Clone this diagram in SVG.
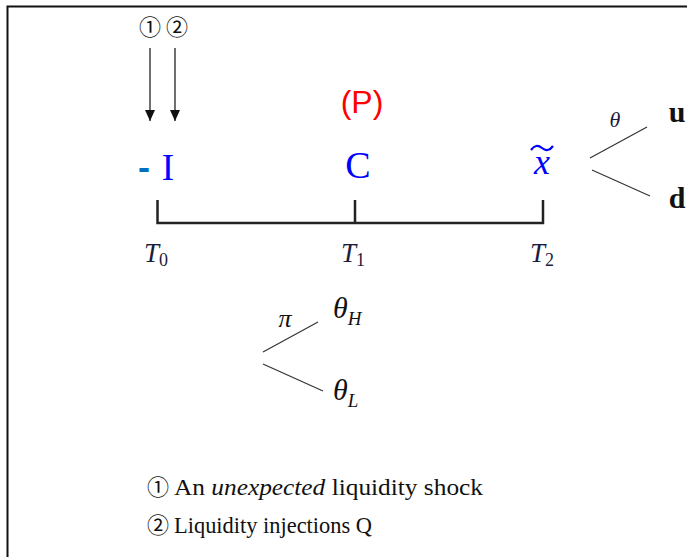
<svg xmlns="http://www.w3.org/2000/svg" width="687" height="557" viewBox="0 0 687 557">
<defs>
<style>
.ln{stroke:#333;stroke-width:1.2;fill:none}
.ax{stroke:#222;stroke-width:2.5;fill:none}
.serif{font-family:"Liberation Serif","DejaVu Serif",serif}
.cj{font-family:"Noto Sans CJK JP","Noto Sans CJK SC",sans-serif;font-weight:400}
.t{font-family:"Liberation Serif","DejaVu Serif",serif;font-style:italic;font-size:27px;fill:#1c1c3c;text-anchor:middle}
.sub{font-size:18px;font-style:normal}
</style>
</defs>
<rect width="687" height="557" fill="#fff"/>
<path d="M7.5,557 V6.5 H687" stroke="#111" stroke-width="2" fill="none"/>

<g id="connectors">
<line x1="150" y1="48" x2="150" y2="121" stroke="#222" stroke-width="1.3"/>
<path d="M145,110 L155,110 L150,121 Z" fill="#111"/>
<line x1="175" y1="48" x2="175" y2="121" stroke="#222" stroke-width="1.3"/>
<path d="M170,110 L180,110 L175,121 Z" fill="#111"/>
<path class="ax" d="M157.5,200 V223 H543 V200"/>
<line class="ax" x1="355" y1="200" x2="355" y2="223"/>
<line class="ln" x1="590" y1="158" x2="647" y2="127"/>
<line class="ln" x1="592" y1="170" x2="650" y2="196"/>
<line class="ln" x1="263" y1="352" x2="318" y2="322"/>
<line class="ln" x1="263" y1="364" x2="323" y2="391"/>
</g>

<g id="markers-top">
<text class="cj" x="150" y="35" font-size="22" text-anchor="middle" fill="#111">①</text>
<text class="cj" x="177" y="35" font-size="22" text-anchor="middle" fill="#111">②</text>
</g>

<g id="node-I">
<text x="144" y="179" font-family="Liberation Sans,sans-serif" font-size="34" font-weight="bold" fill="#0070c0" text-anchor="middle" textLength="12" lengthAdjust="spacingAndGlyphs">-</text>
<text class="serif" x="168" y="180" font-size="37" fill="#0000ff" text-anchor="middle">I</text>
</g>

<g id="node-P">
<text x="362" y="113" font-family="Liberation Sans,sans-serif" font-size="32" fill="#ff0000" text-anchor="middle">(P)</text>
</g>

<g id="node-C">
<text class="serif" x="358" y="178" font-size="38" fill="#0000ff" text-anchor="middle">C</text>
</g>

<g id="node-x">
<text class="serif" x="542" y="174" font-size="36" font-style="italic" fill="#0000ff" text-anchor="middle">x</text>
<path d="M531,150 q5,-7 11,-2 q6,5 11,-2" stroke="#0000ff" stroke-width="2.2" fill="none"/>
</g>

<g id="node-T0"><text class="t" x="156" y="262">T<tspan class="sub" dy="4">0</tspan></text></g>
<g id="node-T1"><text class="t" x="353" y="262">T<tspan class="sub" dy="4">1</tspan></text></g>
<g id="node-T2"><text class="t" x="542" y="262">T<tspan class="sub" dy="4">2</tspan></text></g>

<g id="node-theta">
<text class="serif" x="615" y="127" font-size="22" font-style="italic" fill="#1c1c3c" text-anchor="middle">θ</text>
</g>
<g id="node-u"><text class="serif" x="677" y="122" font-size="30" font-weight="bold" fill="#111" text-anchor="middle">u</text></g>
<g id="node-d"><text class="serif" x="677" y="208" font-size="30" font-weight="bold" fill="#111" text-anchor="middle">d</text></g>

<g id="node-pi"><text class="serif" x="285" y="327" font-size="26" font-style="italic" fill="#111" text-anchor="middle">π</text></g>
<g id="node-thetaH"><text class="serif" x="333" y="318" font-size="30" font-style="italic" fill="#111">θ<tspan font-size="19" dy="7">H</tspan></text></g>
<g id="node-thetaL"><text class="serif" x="333" y="400" font-size="30" font-style="italic" fill="#111">θ<tspan font-size="19" dy="7">L</tspan></text></g>

<g id="legend">
<text class="cj" x="147" y="495" font-size="22" fill="#111">①</text>
<text class="serif" x="174" y="495" font-size="23" fill="#111" textLength="309" lengthAdjust="spacingAndGlyphs">An <tspan font-style="italic">unexpected</tspan> liquidity shock</text>
<text class="cj" x="147" y="533" font-size="22" fill="#111">②</text>
<text class="serif" x="174" y="533" font-size="23" fill="#111" textLength="198" lengthAdjust="spacingAndGlyphs">Liquidity injections Q</text>
</g>
</svg>
